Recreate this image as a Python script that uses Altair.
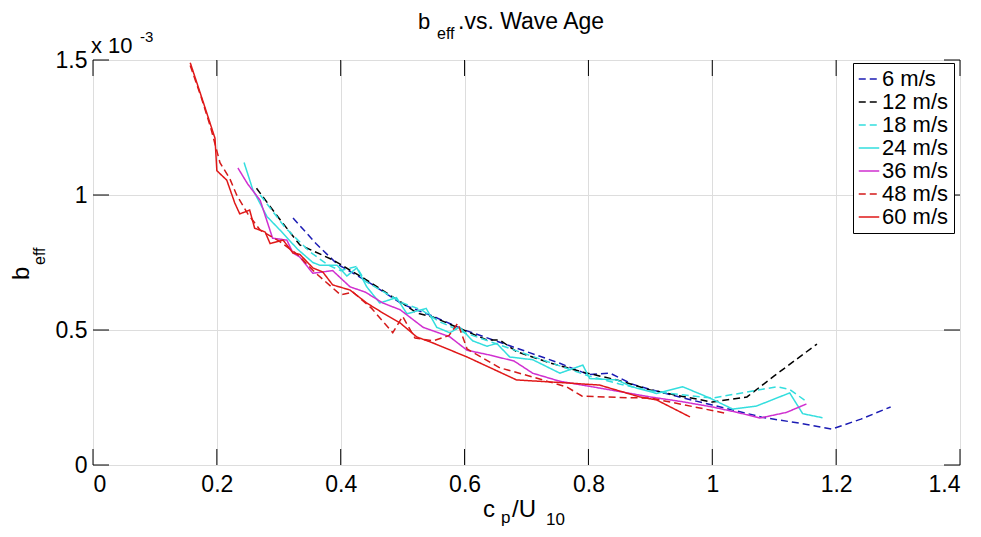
import altair as alt
import pandas as pd

labels = ["6 m/s", "12 m/s", "18 m/s", "24 m/s", "36 m/s", "48 m/s", "60 m/s"]
colors = ["#1c1cb4", "#000000", "#33dede", "#33dede", "#d030d0", "#d41a1a", "#e01818"]
dashes = [[7, 4], [7, 4], [7, 4], [1, 0], [1, 0], [7, 4], [1, 0]]

x6 = [0.323, 0.36, 0.394, 0.45, 0.50, 0.55, 0.60, 0.65, 0.70, 0.75, 0.80, 0.835, 0.87, 0.90, 0.95, 1.00, 1.04, 1.08, 1.14, 1.193, 1.24, 1.288]
y6 = [0.915, 0.82, 0.745, 0.67, 0.595, 0.55, 0.50, 0.46, 0.42, 0.38, 0.335, 0.34, 0.30, 0.28, 0.25, 0.222, 0.20, 0.177, 0.155, 0.133, 0.17, 0.215]

x12 = [0.264, 0.30, 0.334, 0.387, 0.442, 0.496, 0.523, 0.549, 0.587, 0.636, 0.657, 0.684, 0.738, 0.791, 0.846, 0.90, 0.95, 1.00, 1.056, 1.10, 1.169]
y12 = [1.025, 0.915, 0.815, 0.76, 0.685, 0.605, 0.563, 0.548, 0.511, 0.463, 0.463, 0.42, 0.378, 0.344, 0.315, 0.278, 0.255, 0.233, 0.252, 0.33, 0.448]

x18 = [0.27, 0.31, 0.35, 0.38, 0.40, 0.425, 0.44, 0.47, 0.50, 0.53, 0.56, 0.60, 0.65, 0.70, 0.75, 0.80, 0.85, 0.90, 0.95, 1.00, 1.056, 1.104, 1.125, 1.149]
y18 = [1.0, 0.88, 0.79, 0.74, 0.72, 0.735, 0.68, 0.64, 0.60, 0.575, 0.53, 0.49, 0.45, 0.41, 0.37, 0.33, 0.30, 0.275, 0.26, 0.248, 0.27, 0.29, 0.28, 0.24]

x24 = [0.244, 0.258, 0.281, 0.302, 0.33, 0.355, 0.366, 0.394, 0.41, 0.426, 0.442, 0.463, 0.49, 0.507, 0.538, 0.555, 0.576, 0.592, 0.613, 0.636, 0.652, 0.673, 0.71, 0.754, 0.791, 0.802, 0.846, 0.87, 0.91, 0.952, 0.996, 1.033, 1.071, 1.125, 1.146, 1.178]
y24 = [1.12, 1.02, 0.92, 0.87, 0.80, 0.75, 0.74, 0.74, 0.70, 0.73, 0.66, 0.60, 0.62, 0.56, 0.58, 0.51, 0.49, 0.51, 0.46, 0.44, 0.45, 0.40, 0.39, 0.34, 0.37, 0.32, 0.315, 0.29, 0.265, 0.29, 0.248, 0.207, 0.218, 0.267, 0.19, 0.175]

x36 = [0.234, 0.25, 0.27, 0.29, 0.313, 0.323, 0.334, 0.355, 0.387, 0.415, 0.44, 0.468, 0.496, 0.533, 0.576, 0.604, 0.641, 0.68, 0.71, 0.754, 0.818, 0.90, 0.95, 1.00, 1.04, 1.077, 1.12, 1.152]
y36 = [1.10, 1.04, 0.98, 0.84, 0.833, 0.785, 0.77, 0.71, 0.72, 0.66, 0.64, 0.60, 0.575, 0.51, 0.475, 0.425, 0.407, 0.385, 0.34, 0.31, 0.285, 0.252, 0.235, 0.215, 0.195, 0.174, 0.195, 0.226]

x48 = [0.157, 0.175, 0.19, 0.205, 0.221, 0.232, 0.25, 0.27, 0.30, 0.33, 0.36, 0.40, 0.42, 0.45, 0.484, 0.50, 0.52, 0.55, 0.575, 0.589, 0.604, 0.657, 0.71, 0.765, 0.79, 0.85, 0.90, 0.95, 1.025]
y48 = [1.48, 1.36, 1.25, 1.12, 1.06, 1.00, 0.93, 0.87, 0.83, 0.78, 0.71, 0.63, 0.64, 0.58, 0.49, 0.55, 0.47, 0.46, 0.48, 0.525, 0.43, 0.36, 0.326, 0.289, 0.255, 0.25, 0.248, 0.225, 0.19]

x60 = [0.157, 0.18, 0.197, 0.20, 0.216, 0.229, 0.237, 0.253, 0.261, 0.278, 0.286, 0.307, 0.323, 0.334, 0.355, 0.371, 0.387, 0.415, 0.442, 0.468, 0.496, 0.523, 0.549, 0.604, 0.684, 0.765, 0.818, 0.883, 0.91, 0.964]
y60 = [1.49, 1.33, 1.21, 1.09, 1.055, 0.97, 0.93, 0.944, 0.877, 0.863, 0.82, 0.833, 0.785, 0.78, 0.73, 0.715, 0.667, 0.648, 0.60, 0.563, 0.526, 0.474, 0.452, 0.40, 0.315, 0.304, 0.296, 0.252, 0.241, 0.178]

xs = [x6, x12, x18, x24, x36, x48, x60]
ys = [y6, y12, y18, y24, y36, y48, y60]

x_ticks = [0, 0.2, 0.4, 0.6, 0.8, 1.0, 1.2, 1.4]
y_ticks = [0, 0.5, 1.0, 1.5]

rows = []
for lab, xv, yv in zip(labels, xs, ys):
    for i, (a, b) in enumerate(zip(xv, yv)):
        rows.append({"series": lab, "i": i, "x": a, "y": b})
df = pd.DataFrame(rows)
xt = pd.DataFrame({"x": x_ticks})
yt = pd.DataFrame({"y": y_ticks})

FONT = "Liberation Sans"
W, H = 867, 405

xscale = alt.Scale(domain=[0, 1.4], nice=False, zero=False)
yscale = alt.Scale(domain=[0, 1.5], nice=False, zero=False)

leg = alt.Legend(orient="none", legendX=760, legendY=3, symbolType="stroke",
                 symbolSize=420, symbolStrokeWidth=1.5, labelFontSize=22,
                 labelFont=FONT, labelColor="black", labelLimit=300,
                 padding=5, rowPadding=1, labelOffset=2,
                 strokeColor="black", fillColor="white", cornerRadius=0)

lines = alt.Chart(df).mark_line(strokeWidth=1.5).encode(
    x=alt.X("x:Q", scale=xscale,
            axis=alt.Axis(values=x_ticks, format="~g", title=None, ticks=False, domain=False,
                          grid=True, labelPadding=8, labelFontSize=23)),
    y=alt.Y("y:Q", scale=yscale,
            axis=alt.Axis(values=y_ticks, format="~g", title=None, ticks=False, domain=False,
                          grid=True, labelPadding=6, labelFontSize=23)),
    color=alt.Color("series:N", scale=alt.Scale(domain=labels, range=colors), sort=labels,
                    title=None, legend=leg),
    strokeDash=alt.StrokeDash("series:N", scale=alt.Scale(domain=labels, range=dashes), sort=labels,
                              title=None, legend=leg),
    order=alt.Order("i:Q"),
)

TL = 16
tick_b = alt.Chart(xt).mark_rule(color="black", strokeWidth=1).encode(
    x=alt.X("x:Q", scale=xscale), y=alt.value(H), y2=alt.value(H - TL))
tick_t = alt.Chart(xt).mark_rule(color="black", strokeWidth=1).encode(
    x=alt.X("x:Q", scale=xscale), y=alt.value(0), y2=alt.value(TL))
tick_l = alt.Chart(yt).mark_rule(color="black", strokeWidth=1).encode(
    y=alt.Y("y:Q", scale=yscale), x=alt.value(0), x2=alt.value(TL))
tick_r = alt.Chart(yt).mark_rule(color="black", strokeWidth=1).encode(
    y=alt.Y("y:Q", scale=yscale), x=alt.value(W), x2=alt.value(W - TL))

one = pd.DataFrame({"k": [0]})


def txt(s, x, y, size, angle=0, align="left"):
    return alt.Chart(one).mark_text(text=s, font=FONT, fontSize=size, color="black",
                                    align=align, baseline="alphabetic", angle=angle).encode(
        x=alt.value(x), y=alt.value(y))


texts = [
    txt("b", 325, -31, 22),
    txt("eff", 344, -21, 16),
    txt(".vs. Wave Age", 365, -31, 23),
    txt("x 10", -2, -7, 22),
    txt("-3", 47, -18, 15),
    txt("c", 390, 457, 24),
    txt("p", 408, 463, 17),
    txt("/U", 419, 457, 24),
    txt("10", 453, 465, 17),
    txt("b", -64, 220, 24, angle=270),
    txt("eff", -48, 205, 16, angle=270),
]

chart = alt.layer(lines, tick_b, tick_t, tick_l, tick_r, *texts).properties(
    width=W, height=H,
    autosize=alt.AutoSizeParams(type="none"),
    padding={"left": 85, "top": 52, "right": 13, "bottom": 64},
).configure_view(stroke="black", strokeWidth=1).configure_axis(
    labelFont=FONT, labelColor="black", gridColor="#707070", gridDash=[1, 3], gridWidth=1,
    gridOpacity=1,
).configure(background="white")

chart.save("out.html", embed_options={"renderer": "svg", "actions": False})
